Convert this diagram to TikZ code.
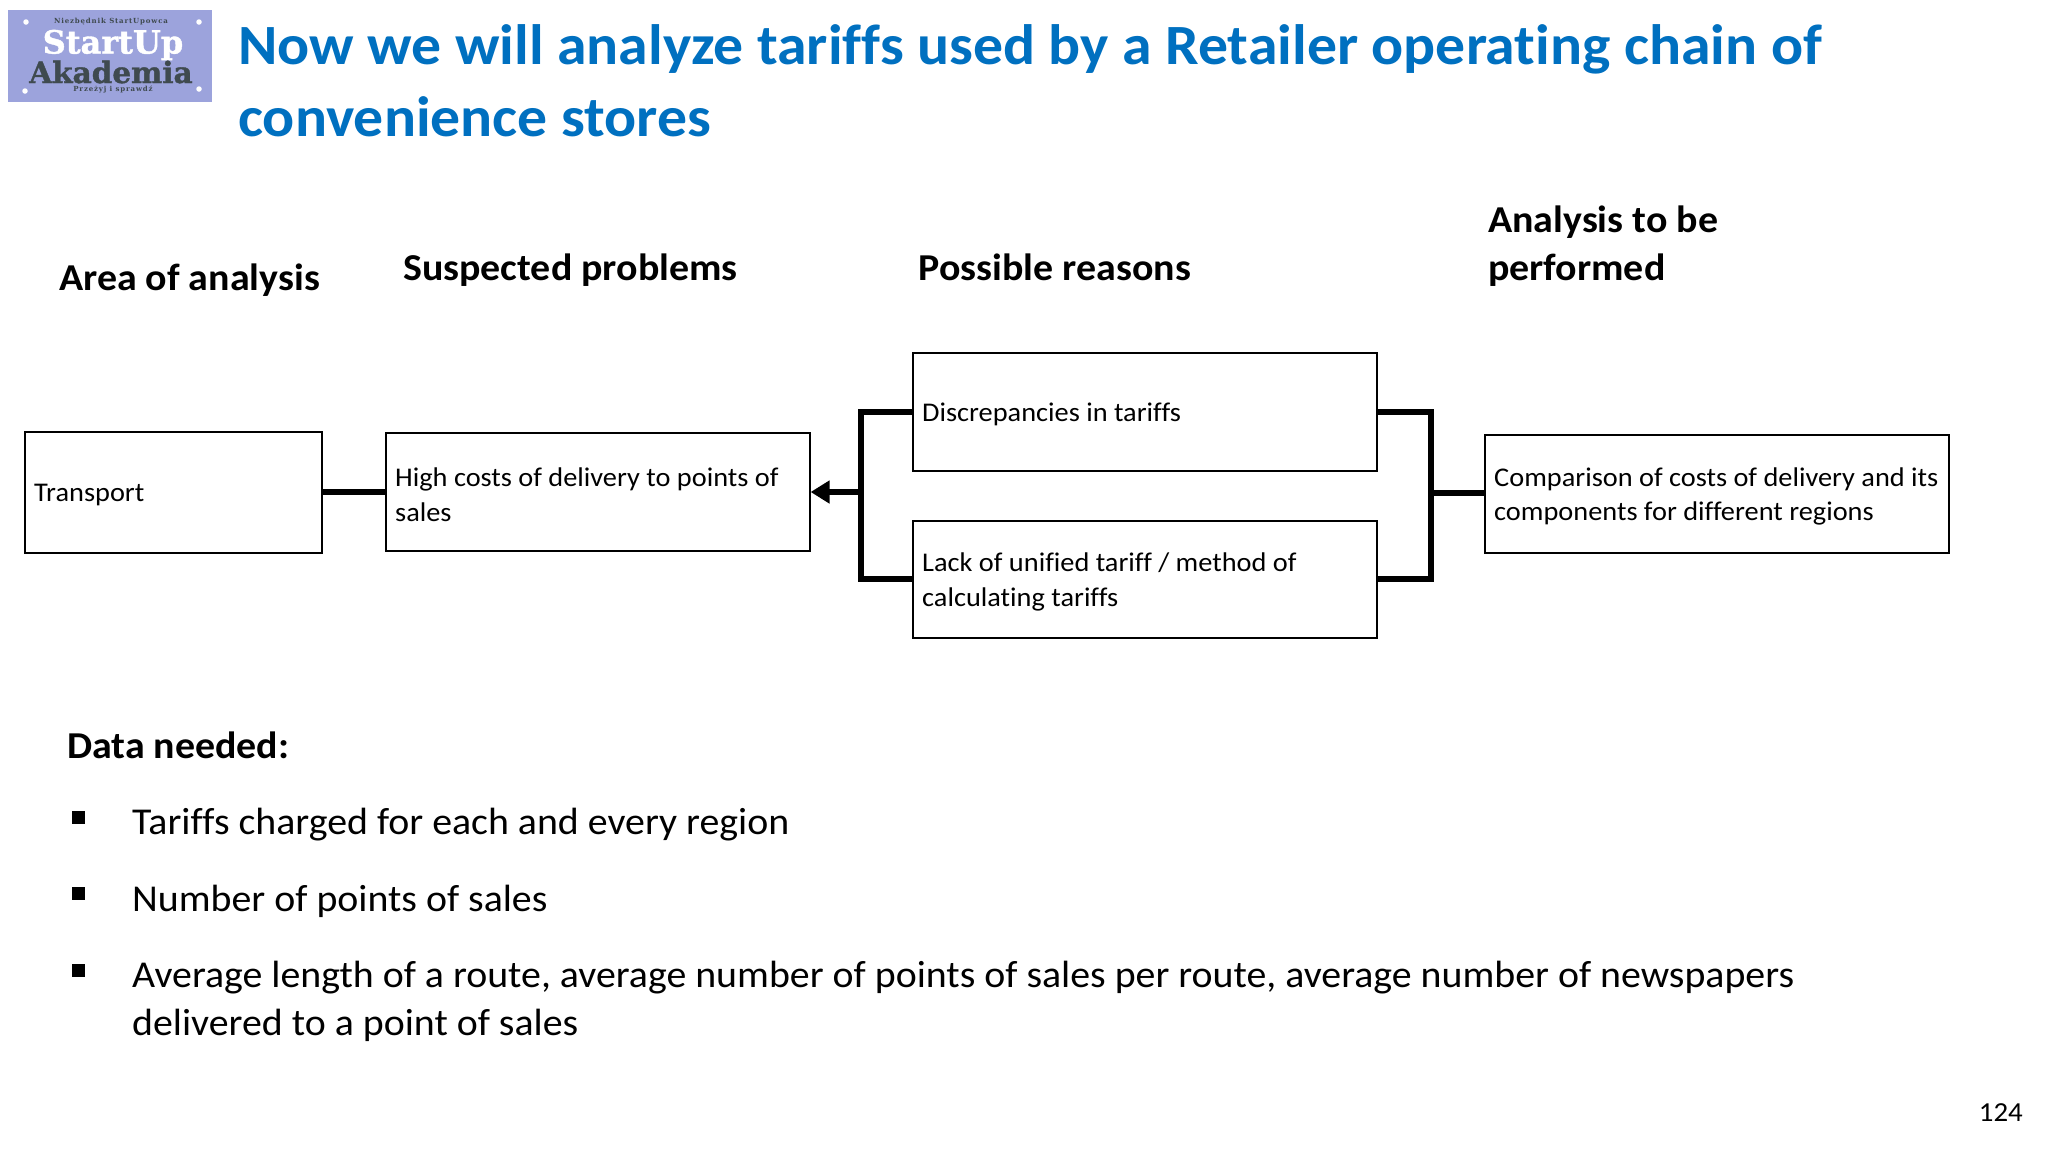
\documentclass[tikz,border=0pt]{standalone}
\usepackage{fontspec}
\setmainfont{Carlito}[Ligatures=NoCommon,FakeStretch=1.05]
\newfontfamily\logofont{DejaVu Serif}[BoldFeatures={FakeBold=1.2}]
\newfontfamily\logosmall{DejaVu Serif}[LetterSpace=12]
\usetikzlibrary{arrows.meta}
\definecolor{titleblue}{HTML}{0070C0}
\definecolor{logobg}{HTML}{9CA3DC}
\definecolor{logodark}{HTML}{3F4A4F}
\tikzset{
  x=1pt,y=-1pt,
  box/.style={draw=black,line width=1.6pt,fill=white,inner sep=0pt,anchor=north west},
  boxtext/.style={anchor=west,align=left,font=\fontsize{27}{34.5}\selectfont,inner sep=0pt,yshift=-2.7pt},
  head/.style={anchor=base west,align=left,font=\fontsize{38}{48}\selectfont\bfseries,inner sep=0pt},
  titletext/.style={anchor=base west,font=\fontsize{56.9}{72}\selectfont\bfseries,text=titleblue,inner sep=0pt},
  bodytext/.style={anchor=base west,font=\fontsize{37.95}{48}\selectfont,inner sep=0pt},
  bulletmark/.style={fill=black,draw=none,minimum size=13pt,inner sep=0pt,anchor=center},
  logodot/.style={circle,fill=white,draw=none,minimum size=5.5pt,inner sep=0pt},
  logotiny/.style={font=\logosmall\bfseries\fontsize{7}{8}\selectfont,text=logodark,inner sep=0pt},
  conn/.style={line width=6pt,draw=black,line cap=butt,line join=miter},
}
\begin{document}
\begin{tikzpicture}
\useasboundingbox (0,0) rectangle (2048,1152);
\fill[white] (0,0) rectangle (2048,1152);
% logo
\node[fill=logobg,minimum width=204pt,minimum height=92pt,inner sep=0pt,anchor=north west] (logo) at (8,10) {};
\node[logodot] (ld1) at (26,22) {};
\node[logodot] (ld2) at (199,22) {};
\node[logodot] (ld3) at (25,91) {};
\node[logodot] (ld4) at (199,89) {};
\node[logotiny] (logoa) at (111,22) {Niezbędnik StartUpowca};
\node[font=\logofont\bfseries\fontsize{32}{34}\selectfont,text=white,inner sep=0pt] (logob) at (113,45) {StartUp};
\node[font=\logofont\bfseries\fontsize{29.5}{32}\selectfont,text=logodark,inner sep=0pt] (logoc) at (111,72) {Akademia};
\node[logotiny] (logod) at (113,90) {Przeżyj i sprawdź};
% title
\node[titletext] (t1) at (238,64) {Now we will analyze tariffs used by a Retailer operating chain of};
\node[titletext] (t2) at (238,136) {convenience stores};
% headers
\node[head] (h1) at (59,290) {Area of analysis};
\node[head] (h2) at (403,280) {Suspected problems};
\node[head] (h3) at (918.5,280) {Possible reasons};
\node[head] (h4a) at (1488,232.5) {Analysis to be};
\node[head] (h4b) at (1488,280) {performed};
% boxes
\node[box,minimum width=297pt,minimum height=121pt] (transport) at (24,431) {};
\node[boxtext] (transportt) at ([xshift=10pt]transport.west) {Transport};
\node[box,minimum width=424pt,minimum height=118pt] (high) at (385,432) {};
\node[boxtext] (hight) at ([xshift=10pt]high.west) {High costs of delivery to points of\\sales};
\node[box,minimum width=464pt,minimum height=118pt] (disc) at (912,352) {};
\node[boxtext] (disct) at ([xshift=10pt]disc.west) {Discrepancies in tariffs};
\node[box,minimum width=464pt,minimum height=117pt] (lack) at (912,520) {};
\node[boxtext] (lackt) at ([xshift=10pt]lack.west) {Lack of unified tariff / method of\\calculating tariffs};
\node[box,minimum width=464pt,minimum height=118pt] (comp) at (1484,434) {};
\node[boxtext] (compt) at ([xshift=10pt]comp.west) {Comparison of costs of delivery and its\\components for different regions};
% connectors
\coordinate (jl) at (861,492);
\coordinate (jr) at (1431,493);
\draw[conn] (transport.east) -- (transport.east -| high.west);
\draw[conn] (disc.west) -| (jl) |- (lack.west);
\draw[conn,-{Triangle[length=19pt,width=22pt]}] (jl) -- (jl -| high.east);
\draw[conn] (disc.east) -| (jr) |- (lack.east);
\draw[conn] (jr) -- (jr -| comp.west);
% data needed
\node[head] (dn) at (67,758) {Data needed:};
\node[bulletmark] (b1) at (78,817) {};
\node[bodytext] (l1) at (132,834) {Tariffs charged for each and every region};
\node[bulletmark] (b2) at (78,893) {};
\node[bodytext] (l2) at (132,911) {Number of points of sales};
\node[bulletmark] (b3) at (78,970) {};
\node[bodytext] (l3a) at (132,987) {Average length of a route, average number of points of sales per route, average number of newspapers};
\node[bodytext] (l3b) at (132,1035) {delivered to a point of sales};
\node[anchor=base east,inner sep=0pt,font=\fontsize{27.5}{30}\selectfont] (pg) at (2023,1121) {124};
\end{tikzpicture}
\end{document}
